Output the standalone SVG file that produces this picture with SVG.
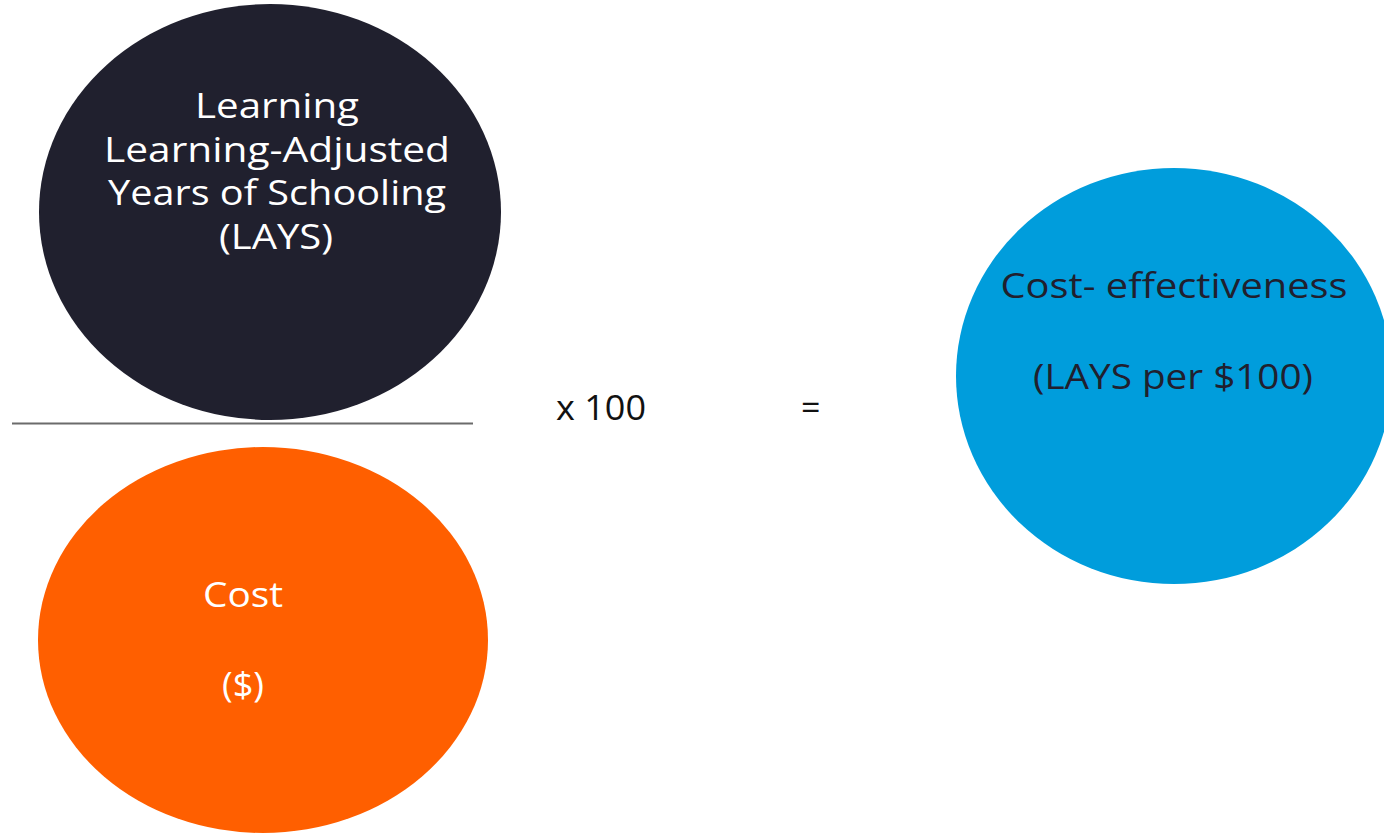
<svg xmlns="http://www.w3.org/2000/svg" width="1384" height="833" viewBox="0 0 1384 833">
  <style>
    .lbl { font-family: "Open Sans", "Noto Sans", "Liberation Sans", sans-serif; font-size: 34px; text-anchor: middle; }
    .light { fill: #ffffff; }
    .dark { fill: #20202e; }
    .op { font-family: "Open Sans", "Noto Sans", "Liberation Sans", sans-serif; font-size: 34px; fill: #111111; }
  </style>
  <rect width="1384" height="833" fill="#ffffff"/>

  <!-- numerator: learning-adjusted years of schooling -->
  <g id="lays">
    <ellipse cx="270" cy="212" rx="231" ry="208" fill="#20202e"/>
    <text class="lbl light" x="277" y="118" textLength="164" lengthAdjust="spacingAndGlyphs">Learning</text>
    <text class="lbl light" x="277" y="162" textLength="346" lengthAdjust="spacingAndGlyphs">Learning-Adjusted</text>
    <text class="lbl light" x="277" y="205" textLength="338" lengthAdjust="spacingAndGlyphs">Years of Schooling</text>
    <text class="lbl light" x="276" y="249" textLength="114" lengthAdjust="spacingAndGlyphs">(LAYS)</text>
  </g>

  <!-- denominator: cost -->
  <g id="cost">
    <ellipse cx="263" cy="640" rx="225" ry="193" fill="#ff5f00"/>
    <text class="lbl light" x="243" y="607" textLength="80" lengthAdjust="spacingAndGlyphs">Cost</text>
    <text class="lbl light" x="243" y="697" textLength="42" lengthAdjust="spacingAndGlyphs">($)</text>
  </g>

  <!-- result: cost-effectiveness -->
  <g id="cost-effectiveness">
    <ellipse cx="1174" cy="376" rx="218" ry="208" fill="#009ddc"/>
    <text class="lbl dark" x="1174" y="298" textLength="347" lengthAdjust="spacingAndGlyphs">Cost- effectiveness</text>
    <text class="lbl dark" x="1173" y="389" textLength="280" lengthAdjust="spacingAndGlyphs">(LAYS per $100)</text>
  </g>

  <!-- fraction bar and operators -->
  <g id="connectors">
    <line x1="12" y1="423.5" x2="473" y2="423.5" stroke="#6b6b6b" stroke-width="2"/>
    <text class="op" x="556" y="420" textLength="90" lengthAdjust="spacingAndGlyphs">x 100</text>
    <text class="op" x="801" y="420">=</text>
  </g>
</svg>
